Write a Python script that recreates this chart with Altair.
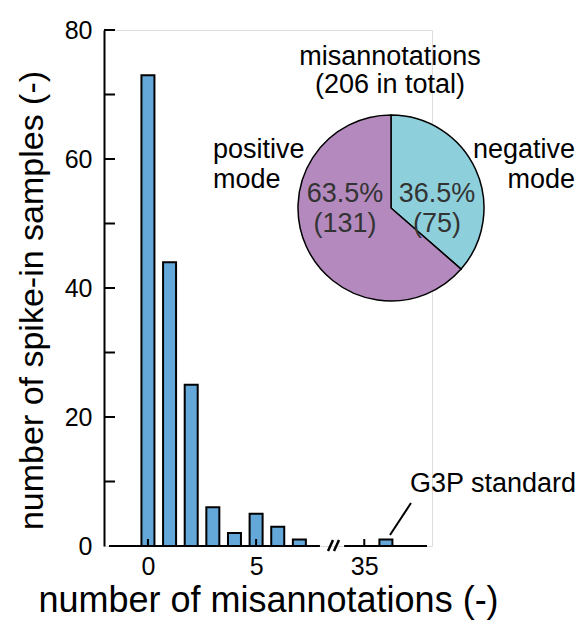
import altair as alt
import pandas as pd

# ---- data ----
misannotations = [0, 1, 2, 3, 4, 5, 6, 7, 36]
samples = [73, 44, 25, 6, 2, 5, 3, 1, 1]
BREAK_SHIFT = 25            # values >= 35 are drawn shifted left across the axis break
x_tick_values = [0, 5, 35]
y_label_values = [0, 20, 40, 60, 80]
y_tick_values = [10, 20, 30, 40, 50, 60, 70, 80]
modes = ["negative mode", "positive mode"]
mode_counts = [75, 131]
mode_order = [0, 1]

def axis_pos(v):
    return v if v < 30 else v - BREAK_SHIFT

bars_df = pd.DataFrame({"n": misannotations, "samples": samples})
bars_df["pos"] = [axis_pos(v) for v in misannotations]
xt_df = pd.DataFrame({"pos": [axis_pos(v) for v in x_tick_values]})
yt_df = pd.DataFrame({"v": y_tick_values})
pie_df = pd.DataFrame({"mode": modes, "count": mode_counts, "idx": mode_order})

FONT = "Liberation Sans"
XDOM = [-1.8, 12.9]
xscale = alt.Scale(domain=XDOM, nice=False, zero=False)
yscale = alt.Scale(domain=[0, 80], nice=False)

W, H = 328, 516

bars = alt.Chart(bars_df).mark_bar(
    size=13, fill="#63a8d9", stroke="black", strokeWidth=2
).encode(
    x=alt.X("pos:Q", scale=xscale, axis=alt.Axis(
        values=[axis_pos(v) for v in x_tick_values],
        labelExpr="datum.value == 10 ? '35' : datum.label",
        ticks=False, domain=False, grid=False,
        labelFontSize=25, labelColor="black", labelPadding=8, labelFont=FONT,
        title="number of misannotations (-)", titleFontSize=36,
        titleFontWeight="normal", titleColor="black", titleFont=FONT,
        titleY=65, titleBaseline="alphabetic")),
    y=alt.Y("samples:Q", scale=yscale, axis=alt.Axis(
        values=y_label_values, ticks=False, grid=False,
        domainColor="black", domainWidth=2,
        labelFontSize=25, labelColor="black", labelPadding=12, labelFont=FONT,
        title="number of spike-in samples (-)", titleFontSize=34,
        titleFontWeight="normal", titleColor="black", titleFont=FONT,
        titleX=-62, titleY=270, titleBaseline="alphabetic", titleAngle=270)),
)

base1 = alt.Chart().mark_rule(color="black", strokeWidth=2).encode(
    x=alt.datum(XDOM[0]), x2=alt.datum(7.95), y=alt.datum(0))
base2 = alt.Chart().mark_rule(color="black", strokeWidth=2).encode(
    x=alt.datum(9.07), x2=alt.datum(XDOM[1]), y=alt.datum(0))
slash1 = alt.Chart().mark_rule(color="black", strokeWidth=2.5).encode(
    x=alt.value(224), y=alt.value(521), x2=alt.value(229), y2=alt.value(510))
slash2 = alt.Chart().mark_rule(color="black", strokeWidth=2.5).encode(
    x=alt.value(230), y=alt.value(521), x2=alt.value(235), y2=alt.value(510))

xticks = alt.Chart(xt_df).mark_rule(color="black", strokeWidth=2).encode(
    x=alt.X("pos:Q"), y=alt.value(H), y2=alt.value(H - 7))
yticks = alt.Chart(yt_df).mark_rule(color="black", strokeWidth=2).encode(
    y=alt.Y("v:Q"), x=alt.value(0), x2=alt.value(11))

pie = alt.Chart(pie_df).mark_arc(radius=93, stroke="black", strokeWidth=1.5).encode(
    theta=alt.Theta("count:Q", stack=True),
    color=alt.Color("mode:N", scale=alt.Scale(domain=modes, range=["#8dd0dc", "#b48abe"]),
                    legend=None),
    order=alt.Order("idx:Q"),
    x=alt.value(287), y=alt.value(178),
)

def label(text, x, y, align="center", color="black", size=27, lh=29):
    return alt.Chart().mark_text(
        text=text, lineBreak="\n", lineHeight=lh, align=align, baseline="alphabetic",
        fontSize=size, font=FONT, color=color
    ).encode(x=alt.value(x), y=alt.value(y))

texts = [
    label("misannotations\n(206 in total)", 286, 35, lh=28),
    label("positive\nmode", 109, 128, align="left", lh=30),
    label("negative\nmode", 471, 128, align="right", lh=30),
    label("63.5%\n(131)", 241, 172, color="#333333", lh=30),
    label("36.5%\n(75)", 333, 172, color="#333333", lh=30),
    label("G3P standard", 306, 462, align="left"),
]

leader = alt.Chart().mark_rule(color="black", strokeWidth=2).encode(
    x=alt.value(286), y=alt.value(505), x2=alt.value(307), y2=alt.value(473))

chart = alt.layer(
    bars, base1, base2, slash1, slash2, xticks, yticks, pie, leader, *texts
).properties(
    width=W, height=H,
    autosize=alt.AutoSizeParams(type="none"),
    padding={"left": 104, "top": 30, "right": 146, "bottom": 78},
).configure_view(stroke=None).configure(font=FONT, background="white")

chart.save("out.html", embed_options={"renderer": "svg", "actions": False})
